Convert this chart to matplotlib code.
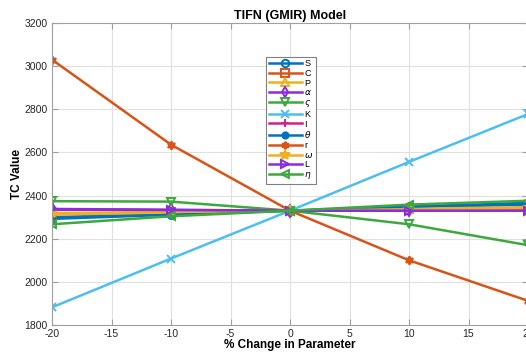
import matplotlib
matplotlib.use("Agg")
import matplotlib.pyplot as plt

# % change in each parameter
pct_change = [-20, -10, 0, 10, 20]

# TC value for each parameter
tc_S = [2300, 2315, 2330, 2345, 2358]
tc_C = [2315, 2322, 2330, 2337, 2343]
tc_P = [2312, 2321, 2330, 2339, 2346]
tc_alpha = [2338, 2334, 2330, 2331, 2332]
tc_sigma = [2374, 2372, 2330, 2267, 2170]
tc_K = [1882, 2108, 2330, 2556, 2778]
tc_I = [2334, 2332, 2330, 2333, 2335]
tc_theta = [2292, 2311, 2330, 2349, 2366]
tc_r = [3030, 2636, 2330, 2100, 1912]
tc_omega = [2318, 2324, 2330, 2336, 2341]
tc_L = [2336, 2333, 2330, 2330, 2330]
tc_eta = [2267, 2304, 2330, 2358, 2376]

labels = ['S', 'C', 'P', r'$\alpha$', r'$\varsigma$', 'K', 'I',
          r'$\theta$', 'r', r'$\omega$', 'L', r'$\eta$']
series = [tc_S, tc_C, tc_P, tc_alpha, tc_sigma, tc_K, tc_I,
          tc_theta, tc_r, tc_omega, tc_L, tc_eta]
colors = ['#0072BD', '#D95319', '#EDB120', '#8A2BE2', '#3DA83D', '#4DBEEE',
          '#D4208C', '#0072BD', '#D95319', '#EDB120', '#8A2BE2', '#3DA83D']
markers = ['o', 's', '^', 'd', 'v', 'x', '+', '.', (6, 1, 0), '*', '>', '<']
filled = [False, False, False, False, False, True, True, True, True, True,
          False, False]

plt.rcParams['font.family'] = ['Liberation Sans', 'DejaVu Sans']
plt.rcParams['mathtext.fontset'] = 'dejavusans'
plt.rcParams['axes.unicode_minus'] = False

fig = plt.figure(figsize=(5.26, 3.53), dpi=100)
ax = fig.add_axes([52 / 526, 28 / 353, 476 / 526, 302 / 353])

for vals, lab, c, m, f in zip(series, labels, colors, markers, filled):
    ms = 6
    if m == '.':
        ms = 10
    if m == '*':
        ms = 8
    ax.plot(pct_change, vals, color=c, marker=m, lw=1.8, ms=ms, mew=1.4,
            mfc=c if f else 'none', label=lab)

ax.set_xlim(-20, 20)
ax.set_ylim(1800, 3200)
ax.set_xticks(range(-20, 21, 5))
ax.set_yticks(range(1800, 3201, 200))
ax.grid(True, color='#e0e0e0', lw=0.8)
ax.set_axisbelow(True)
for s in ax.spines.values():
    s.set_color('#a0a0a0')
ax.tick_params(direction='in', top=True, right=True, labelsize=7.5,
               length=4, pad=3)
ax.tick_params(axis='both', colors='#a0a0a0', labelcolor='#262626')

ax.set_title('TIFN (GMIR) Model', fontsize=9, fontweight='bold', pad=3)
ax.set_xlabel('% Change in Parameter', fontsize=8.5, fontweight='bold',
              labelpad=0)
ax.set_ylabel('TC Value', fontsize=8.5, fontweight='bold', labelpad=1)

leg = ax.legend(loc='upper left', bbox_to_anchor=(0.441, 0.904), fontsize=6.5,
                handlelength=3.6, labelspacing=0.08, borderpad=0.3,
                handletextpad=0.3, fancybox=False, framealpha=1,
                edgecolor='#808080', markerscale=0.9)
leg.get_frame().set_linewidth(0.8)

fig.savefig('out.png', dpi=100)
